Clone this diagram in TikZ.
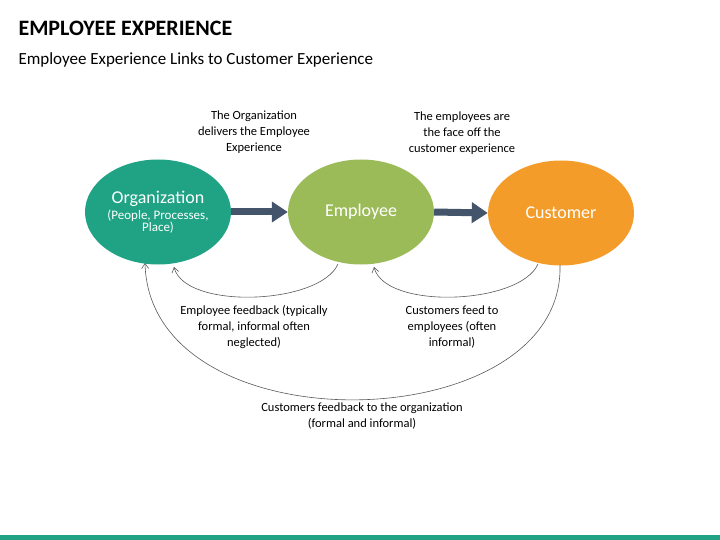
\documentclass[tikz,border=0pt]{standalone}
\usepackage{fontspec}
\setmainfont{Carlito}
\usetikzlibrary{arrows.meta,shapes.geometric}
\definecolor{teal1}{HTML}{1FA384}
\definecolor{green1}{HTML}{9BBB59}
\definecolor{orange1}{HTML}{F39C2A}
\definecolor{slate}{HTML}{44546A}
\begin{document}
\begin{tikzpicture}[x=1pt,y=-1pt,
  circ/.style={ellipse,minimum width=146pt,minimum height=105pt,text=white,align=center,inner sep=0pt},
  lbl/.style={font=\fontsize{12.5}{16}\selectfont,align=center},
  big/.style={draw=slate,line width=7pt,-{Triangle[length=16pt,width=20pt]}},
  fb/.style={draw=gray!70!black,line width=0.6pt,-{Straight Barb[length=5pt,width=7pt]}}]
\useasboundingbox (0,0) rectangle (720,540);
\node[anchor=west,font=\bfseries\fontsize{22}{26}\selectfont] (t) at (15,28) {EMPLOYEE EXPERIENCE};
\node[anchor=west,font=\fontsize{17}{20}\selectfont] (s) at (15,60) {Employee Experience Links to Customer Experience};
\node[circ,fill=teal1] (o) at (158,212) {{\fontsize{18}{20}\selectfont Organization}\\[2pt]{\fontsize{13}{16}\selectfont (People, Processes,}\\{\fontsize{13}{16}\selectfont Place)}};
\node[circ,fill=green1,font=\fontsize{18}{20}\selectfont] (e) at (361,212) {Employee};
\node[circ,fill=orange1,font=\fontsize{18}{20}\selectfont] (c) at (561,213) {Customer};
\draw[big] (o.east) -- (e.west);
\draw[big] (e.east) -- (c.west);
\node[lbl] (l1) at (254,132) {The Organization\\delivers the Employee\\Experience};
\node[lbl] (l2) at (462,133) {The employees are\\the face off the\\customer experience};
\node[lbl] (l3) at (254,327) {Employee feedback (typically\\formal, informal often\\neglected)};
\node[lbl] (l4) at (452,327) {Customers feed to\\employees (often\\informal)};
\node[lbl] (l5) at (362,416) {Customers feedback to the organization\\(formal and informal)};
\coordinate (e1) at (338,264);
\coordinate (o1) at (174,267);
\coordinate (c1) at (538,264);
\coordinate (e2) at (374,267);
\coordinate (c2) at (560,265);
\coordinate (o2) at (145,263);
\draw[fb] (e1) .. controls (320,305) and (185,310) .. (o1);
\draw[fb] (c1) .. controls (520,305) and (385,310) .. (e2);
\draw[fb] (c2) .. controls (565,440) and (150,450) .. (o2);
\fill[teal1] (0,535) rectangle (720,540);
\end{tikzpicture}
\end{document}
